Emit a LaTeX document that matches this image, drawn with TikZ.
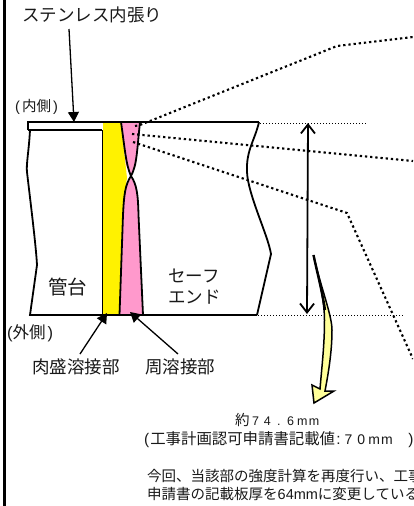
\documentclass[tikz,border=0pt]{standalone}
\usepackage{fontspec}
\setmainfont{Noto Sans CJK JP}
\newfontfamily\latinfont{Liberation Sans}
\usetikzlibrary{arrows.meta}
\definecolor{pinkweld}{RGB}{255,153,204}
\definecolor{paleyellow}{RGB}{255,255,153}
\definecolor{inktext}{RGB}{25,25,25}
\newcommand{\cellb}[1]{\makebox[12.8pt][c]{\latinfont\fontsize{14}{16}\selectfont #1}}
\newcommand{\cella}[1]{\makebox[11.7pt][c]{\latinfont\fontsize{12.5}{15}\selectfont #1}}
\tikzset{
  label14/.style={inner sep=0pt,text=inktext,anchor=base west,font=\fontsize{14.5}{16}\selectfont},
  label17/.style={inner sep=0pt,text=inktext,anchor=base west,font=\fontsize{17.5}{20}\selectfont},
  outline/.style={line width=1.8pt,black},
  thickdots/.style={line width=2.1pt,dash pattern=on 2.3pt off 2.9pt},
  thindots/.style={line width=1pt,dash pattern=on 1pt off 2pt},
  pointer/.style={line width=1.3pt,-{Triangle[length=10pt,width=11pt]}},
  dimline/.style={line width=1.8pt,{Straight Barb[length=9pt,width=14pt]}-{Straight Barb[length=9pt,width=14pt]}},
}
\begin{document}
\begin{tikzpicture}[x=1pt,y=-1pt]
\useasboundingbox (0,0) rectangle (413,506);
\clip (0,0) rectangle (413,506);
\fill[white] (0,0) rectangle (413,506);
\draw[line width=2.4pt] (4.5,0) -- (4.5,506);

% shapes
\fill[yellow] (103,122) -- (121,122) -- (127,178) -- (123,205) -- (119,314) -- (103,314) -- cycle;
\fill[pinkweld] (121,122) -- (140,122) -- (136,165) -- (131,176) -- (126,165) -- cycle;
\fill[pinkweld] (131,178) .. controls (126,185) and (124,192) .. (124,205) -- (120,314) -- (143,314) -- (138,205) .. controls (138,192) and (136,185) .. (131,178) -- cycle;
\draw[outline] (102.5,130) -- (102.5,315);
\draw[outline] (121,122) .. controls (125,150) and (126,165) .. (131,176) .. controls (125,185) and (124,195) .. (123,215) -- (119.5,315);
\draw[outline] (140,122) .. controls (137,150) and (137,165) .. (131,176) .. controls (137,185) and (138,195) .. (138.5,215) -- (143,315);
% liner
\draw[outline] (28,130) -- (28,122) -- (259,122);
\draw[outline] (28,130) -- (102,130);
% left pipe
\draw[outline] (30,130) .. controls (29,150) and (26,165) .. (27,172) .. controls (29,190) and (36,245) .. (37,265) -- (30,315) -- (257,315);
% right pipe
\draw[outline] (259,122) .. controls (255,140) and (246,150) .. (247,172) .. controls (248,195) and (268,235) .. (271,254) -- (257,315);

% zoom lines
\coordinate (fa) at (140,125);
\coordinate (fb) at (337,46);
\coordinate (fc) at (413,37);
\coordinate (ga) at (132,134);
\coordinate (gb) at (413,161);
\coordinate (ha) at (133,142);
\coordinate (hb) at (347,213);
\coordinate (hc) at (413,359);
\draw[thickdots] (135,126) -- (fa) -- (fb) -- (fc);
\draw[thickdots] (ga) -- (gb);
\draw[thickdots] (ha) -- (hb) -- (hc);

% dimension
\coordinate (dt) at (308,123);
\coordinate (db) at (307,314);
\draw[thindots] (260,123) -- (367,123);
\draw[thindots] (258,315) -- (404,315);
\draw[dimline] (dt) -- (db);

% yellow arrow
\draw[line width=1.5pt,fill=paleyellow,line join=miter]
  (313.5,255) .. controls (318,275) and (324.5,300) .. (324.5,320)
  .. controls (324.5,345) and (322,365) .. (320,389)
  -- (312,385) -- (314,403) -- (334,391) -- (325,391)
  .. controls (329,370) and (332,350) .. (332,330)
  .. controls (332,315) and (320,285) .. (313.5,255) -- cycle;
\draw[line width=2.4pt] (313.5,255) .. controls (317,272) and (322,290) .. (325,310);

% labels
\node[label17] (liner) at (22,21) {ステンレス内張り};
\coordinate (linertip) at (74,122);
\draw[pointer] (69,29) -- (linertip);
\node[label14] (inner) at (15,111) {{\latinfont(}\hspace{2pt}内側\hspace{2pt}{\latinfont)}};
\node[inner sep=0pt,text=inktext,anchor=base west,font=\fontsize{16.5}{18}\selectfont] (outer) at (7,338) {{\latinfont(}外側\hspace{2pt}{\latinfont)}};
\node[inner sep=0pt,text=inktext,anchor=base west,font=\fontsize{19.5}{22}\selectfont] (kandai) at (48,294) {管台};
\node[label17] (se) at (168,282) {セーフ};
\node[label17] (end) at (168,303) {エンド};
\node[label17] (nikumori) at (32,373) {肉盛溶接部};
\node[label17] (shu) at (145,373) {周溶接部};
\coordinate (nikutip) at (107,313);
\coordinate (shutip) at (130,312);
\draw[pointer] (80,354) -- (nikutip);
\draw[pointer] (178,354) -- (shutip);
\node[label14] (val) at (235,425) {約\cella{7}\cella{4}\cella{.}\cella{6}\cella{m}\cella{m}};
\node[inner sep=0pt,text=inktext,anchor=base west,font=\fontsize{15.4}{17}\selectfont] (app) at (144,444) {{\latinfont(}\hspace{1pt}工事計画認可申請書記載値\makebox[7pt][c]{\latinfont:}\cellb{7}\cellb{0}\cellb{m}\cellb{m}\hspace{15pt}{\latinfont)}};
\node[label14] (note1) at (147,481) {今回、当該部の強度計算を再度行い、工事};
\node[label14] (note2) at (147,499) {申請書の記載板厚を{\latinfont 64mm}に変更している};
\end{tikzpicture}
\end{document}
